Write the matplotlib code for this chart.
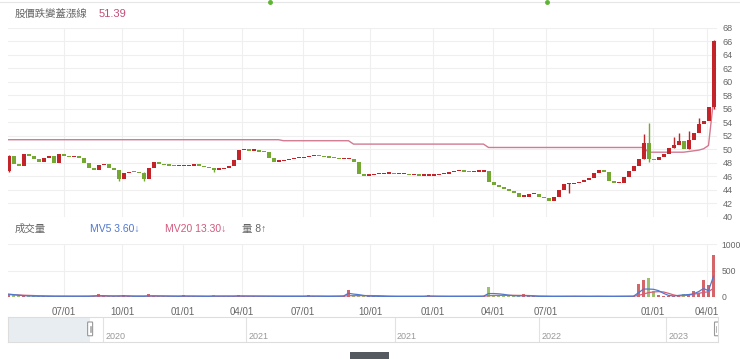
import numpy as np
import matplotlib
matplotlib.use("Agg")
import matplotlib.pyplot as plt
from matplotlib.patches import Rectangle, FancyBboxPatch
from matplotlib.lines import Line2D

plt.rcParams['font.family'] = ['Liberation Sans', 'Noto Sans CJK TC', 'DejaVu Sans']

# closing price per bar (one bar ~ one trading week)
first_open = 46.8
close = [
    49.0, 47.9, 47.5, 49.3, 49.0, 48.6, 48.2, 48.8, 49.1, 48.0,
    49.3, 49.0, 48.9, 49.0, 48.8, 48.0, 47.3, 47.0, 47.7, 47.9,
    47.2, 46.9, 45.6, 46.5, 46.7, 46.6, 46.5, 45.6, 47.2, 48.1,
    47.9, 47.7, 47.6, 47.5, 47.5, 47.5, 47.6, 47.8, 47.6, 47.4,
    47.2, 47.0, 47.1, 47.3, 47.5, 48.4, 49.9, 49.9, 49.8, 49.8,
    49.7, 49.6, 48.8, 48.2, 48.3, 48.4, 48.6, 48.7, 48.7, 48.9,
    49.0, 49.1, 49.0, 48.9, 48.8, 48.7, 48.6, 48.6, 48.6, 48.1,
    46.4, 46.1, 46.2, 46.3, 46.3, 46.4, 46.4, 46.3, 46.3, 46.3,
    46.2, 46.2, 46.1, 46.1, 46.1, 46.2, 46.3, 46.4, 46.6, 46.8,
    46.8, 46.7, 46.6, 46.7, 46.7, 46.8, 45.2, 44.7, 44.5, 44.2,
    43.9, 43.5, 43.0, 43.0, 43.4, 43.4, 43.0, 42.8, 42.4, 43.0,
    44.0, 44.9, 44.9, 45.0, 45.2, 45.5, 45.8, 46.5, 46.9, 46.7,
    45.4, 45.0, 45.1, 45.9, 46.8, 47.6, 48.6, 51.0, 48.6, 48.4,
    48.9, 49.3, 50.2, 50.6, 51.3, 50.0, 51.4, 52.4, 53.8, 54.2,
    56.3, 66.0,
]

# extra wicks (bar index, low, high)
wick_idx = [0, 22, 27, 41, 112, 127, 128, 133, 134, 136, 138, 141]
wick_low = [46.7, 45.3, 45.3, 46.7, 43.5, 48.6, 48.2, 50.2, 51.0, 50.0, 53.5, 56.0]
wick_high = [49.2, 46.9, 46.6, 47.3, 45.0, 52.3, 53.9, 51.9, 52.4, 52.8, 54.6, 66.2]

# 股價跌變蓋漲線
cover_line = [
    51.45, 51.45, 51.45, 51.45, 51.45, 51.45, 51.45, 51.45, 51.45, 51.45,
    51.45, 51.45, 51.45, 51.45, 51.45, 51.45, 51.45, 51.45, 51.45, 51.45,
    51.45, 51.45, 51.45, 51.45, 51.45, 51.45, 51.45, 51.45, 51.45, 51.45,
    51.45, 51.45, 51.45, 51.45, 51.45, 51.45, 51.45, 51.45, 51.45, 51.45,
    51.45, 51.45, 51.45, 51.45, 51.45, 51.45, 51.45, 51.45, 51.45, 51.45,
    51.45, 51.45, 51.45, 51.45, 51.45, 51.3, 51.3, 51.3, 51.3, 51.3,
    51.3, 51.3, 51.3, 51.3, 51.3, 51.3, 51.3, 51.3, 51.3, 50.8,
    50.8, 50.8, 50.8, 50.8, 50.8, 50.8, 50.8, 50.8, 50.8, 50.8,
    50.8, 50.8, 50.8, 50.8, 50.8, 50.8, 50.8, 50.8, 50.8, 50.8,
    50.8, 50.8, 50.8, 50.8, 50.8, 50.8, 50.3, 50.3, 50.3, 50.3,
    50.3, 50.3, 50.3, 50.3, 50.3, 50.3, 50.3, 50.3, 50.3, 50.3,
    50.3, 50.3, 50.3, 50.3, 50.3, 50.3, 50.3, 50.3, 50.3, 50.3,
    50.3, 50.3, 50.3, 50.3, 50.3, 50.3, 50.3, 50.3, 49.6, 49.6,
    49.6, 49.6, 49.6, 49.6, 49.6, 49.6, 49.7, 49.8, 49.9, 50.1,
    50.6, 57.3,
]

volume = [
    60, 45, 30, 22, 18, 15, 14, 16, 15, 12,
    14, 13, 15, 12, 14, 13, 15, 16, 60, 18,
    14, 15, 20, 35, 15, 13, 12, 14, 50, 16,
    13, 12, 14, 12, 15, 30, 13, 12, 11, 14,
    12, 30, 14, 13, 15, 16, 30, 18, 14, 13,
    12, 14, 13, 12, 11, 13, 12, 14, 12, 13,
    30, 13, 12, 11, 12, 14, 20, 25, 130, 30,
    25, 18, 14, 13, 12, 13, 12, 11, 12, 13,
    12, 11, 12, 13, 35, 12, 11, 12, 13, 12,
    11, 12, 13, 12, 14, 20, 195, 40, 30, 25,
    20, 18, 15, 60, 14, 12, 11, 12, 10, 11,
    12, 13, 20, 12, 11, 12, 13, 14, 12, 11,
    10, 11, 12, 13, 14, 20, 240, 330, 360, 110,
    40, 25, 18, 20, 40, 50, 60, 120, 80, 330,
    230, 790,
]

mv5 = [
    55, 45, 35, 25, 20, 16, 15, 15, 15, 14,
    14, 14, 14, 14, 14, 14, 14, 20, 25, 24,
    20, 18, 20, 22, 20, 15, 14, 14, 20, 22,
    20, 16, 14, 13, 14, 18, 17, 15, 13, 13,
    13, 17, 17, 16, 15, 17, 20, 19, 18, 16,
    14, 13, 13, 13, 13, 13, 13, 13, 13, 13,
    16, 16, 15, 13, 12, 13, 15, 18, 70, 55,
    45, 30, 18, 14, 13, 13, 12, 12, 12, 12,
    12, 12, 12, 12, 18, 17, 14, 12, 12, 12,
    12, 12, 12, 12, 13, 15, 65, 65, 60, 50,
    35, 25, 20, 25, 22, 18, 13, 12, 11, 11,
    12, 12, 14, 14, 13, 12, 12, 13, 13, 12,
    11, 11, 12, 12, 13, 15, 80, 150, 150, 145,
    120, 70, 30, 20, 30, 40, 45, 60, 100, 160,
    120, 390,
]

mv20 = [
    45, 42, 38, 34, 30, 27, 24, 21, 19, 17,
    16, 15, 15, 15, 15, 15, 15, 16, 18, 18,
    18, 18, 19, 19, 19, 18, 17, 17, 18, 18,
    18, 18, 17, 16, 16, 16, 16, 16, 15, 15,
    15, 15, 16, 16, 16, 16, 17, 17, 17, 16,
    15, 15, 14, 14, 14, 14, 13, 13, 13, 13,
    14, 14, 14, 14, 14, 14, 15, 16, 25, 26,
    27, 27, 27, 26, 25, 20, 16, 14, 13, 13,
    13, 13, 13, 13, 14, 14, 14, 14, 14, 13,
    13, 13, 13, 13, 13, 14, 25, 28, 30, 31,
    32, 32, 31, 30, 28, 22, 18, 16, 15, 14,
    13, 13, 13, 13, 13, 13, 13, 13, 13, 13,
    12, 12, 12, 12, 13, 14, 30, 55, 82, 95,
    101, 95, 70, 40, 20, 25, 38, 50, 70, 85,
    100, 165,
]

tick_pos = [11.1, 22.7, 34.9, 46.7, 58.9, 72.3, 84.9, 96.9, 107.5, 128.9, 139.7]
tick_labels = ['07/01', '10/01', '01/01', '04/01', '07/01', '10/01',
               '01/01', '04/01', '07/01', '01/01', '04/01']

year_pos = [18.9, 47.5, 77.1, 105.9, 131.3]
year_labels = ['2020', '2021', '2021', '2022', '2023']

RED = '#c2242a'
GREEN = '#74a832'
GRID = '#efefef'
TXT = '#666666'

W, H = 740, 359
fig = plt.figure(figsize=(W / 100, H / 100), dpi=100)


def fx(px):
    return px / W


def fy(py):
    return 1 - py / H


xlim = (-0.1, 141.7)
n = len(close)
x = np.arange(n)
opens = [first_open] + close[:-1]
up = [c >= o for o, c in zip(opens, close)]
cols = [RED if u else GREEN for u in up]

# ---- price panel
ax = fig.add_axes([fx(8), fy(217), fx(709), (217 - 28) / H])
ax.set_xlim(*xlim)
ax.set_ylim(40, 68)
for s in ax.spines.values():
    s.set_visible(False)
ax.set_yticks(np.arange(40, 69, 2))
ax.yaxis.tick_right()
ax.tick_params(axis='y', length=0, pad=4, labelsize=6.5, labelcolor=TXT)
ax.set_xticks(tick_pos)
ax.tick_params(axis='x', length=0, labelbottom=False)
ax.grid(True, color=GRID, lw=0.8)
ax.set_axisbelow(True)

ax.plot(x, cover_line, color='#d27a92', lw=1.0, zorder=2)
ax.vlines([x[i] for i in wick_idx], wick_low, wick_high,
          colors=[cols[i] for i in wick_idx], lw=1.0, zorder=3)
bottoms = [min(o, c) for o, c in zip(opens, close)]
heights = [max(abs(c - o), 0.2) for o, c in zip(opens, close)]
ax.bar(x, heights, bottom=bottoms, width=0.8, color=cols, lw=0, zorder=3)

# ---- volume panel
av = fig.add_axes([fx(8), fy(297), fx(709), (297 - 244) / H])
av.set_xlim(*xlim)
av.set_ylim(0, 1000)
for s in av.spines.values():
    s.set_visible(False)
av.set_yticks([0, 500, 1000])
av.yaxis.tick_right()
av.tick_params(axis='y', length=0, pad=3, labelsize=6.2, labelcolor=TXT)
av.set_xticks(tick_pos)
av.set_xticklabels(tick_labels)
av.tick_params(axis='x', length=0, pad=7, labelsize=7, labelcolor=TXT)
av.grid(True, color=GRID, lw=0.8)
av.set_axisbelow(True)
av.bar(x, volume, width=0.6, color=cols, alpha=0.7, lw=0, zorder=2)
av.plot(x, mv20, color='#d4607a', lw=0.9, zorder=3)
av.plot(x, mv5, color='#4f78d0', lw=0.9, zorder=4)

# ---- navigator
an = fig.add_axes([fx(8), fy(342), fx(710), (342 - 317) / H])
an.set_xlim(*xlim)
an.set_ylim(0, 1)
an.set_xticks([])
an.set_yticks([])
for s in an.spines.values():
    s.set_color('#dddddd')
    s.set_linewidth(0.8)
an.axvspan(xlim[0], 16.3, color='#e8edf2', lw=0)
for p, lab in zip(year_pos, year_labels):
    an.axvline(p, color='#e2e2e2', lw=0.8)
    an.text(p + 0.5, 0.22, lab, fontsize=6.5, color='#999999', va='center', ha='left')
for hx in (16.3, 141.5):
    an.add_patch(FancyBboxPatch((hx - 0.45, 0.3), 0.9, 0.45,
                                boxstyle='round,pad=0.05', fc='white', ec='#999999', lw=0.8,
                                transform=an.transData, zorder=5))
    an.plot([hx - 0.12, hx - 0.12], [0.4, 0.65], color='#999999', lw=0.5, zorder=6)
    an.plot([hx + 0.12, hx + 0.12], [0.4, 0.65], color='#999999', lw=0.5, zorder=6)

# ---- header texts and decorations
fig.add_artist(Line2D([0, 1], [fy(1.5), fy(1.5)], color='#e6e6e6', lw=0.8))
fig.add_artist(Line2D([fx(270)], [fy(1.5)], marker='o', ms=2.5, color='#5cb531', lw=0))
fig.add_artist(Line2D([fx(547)], [fy(1.5)], marker='o', ms=2.5, color='#5cb531', lw=0))
fig.text(fx(15), fy(14), '股價跌變蓋漲線', fontsize=7.5, color='#666666', va='center')
fig.text(fx(99), fy(14), '51.39', fontsize=8, color='#c24d78', va='center')

fig.text(fx(15), fy(229), '成交量', fontsize=7.5, color='#666666', va='center')
fig.text(fx(90), fy(229), 'MV5 3.60↓', fontsize=7.5, color='#4f78d0', va='center')
fig.text(fx(165), fy(229), 'MV20 13.30↓', fontsize=7.5, color='#d05a7d', va='center')
fig.text(fx(242), fy(229), '量 8↑', fontsize=7.5, color='#666666', va='center')

fig.add_artist(Rectangle((fx(350), 0), fx(39), 7 / H, color='#555a60', lw=0))

fig.savefig('out.png', dpi=100)
